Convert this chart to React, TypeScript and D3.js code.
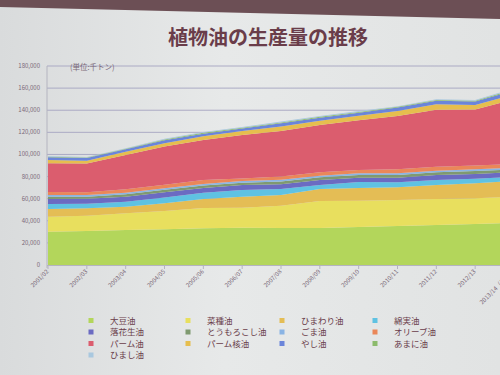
import React from 'react';
import * as d3 from 'd3';

// 作物年度
const years = [
  '2001/02', '2002/03', '2003/04', '2004/05', '2005/06', '2006/07', '2007/08',
  '2008/09', '2009/10', '2010/11', '2011/12', '2012/13', '2013/14（見込）',
];

// 生産量（千トン）— 写真から読み取った概算値
const soybean = [30100, 30800, 31700, 32300, 33200, 33700, 33500, 33500, 34400, 35300, 36200, 37100, 38000];
const rapeseed = [13600, 13800, 15100, 16600, 18400, 18100, 20200, 24400, 23700, 23500, 23500, 23200, 24000];
const sunflower = [7000, 6700, 6000, 7000, 8100, 9900, 9700, 10900, 11600, 11500, 12700, 13600, 14000];
const cottonseed = [4500, 4200, 4500, 5100, 5700, 6100, 5400, 3600, 5400, 4500, 4500, 4200, 3900];
const peanut = [4500, 4500, 4500, 4900, 4300, 4500, 4300, 4500, 3900, 4200, 4500, 4300, 4300];
const corn = [2100, 1800, 2200, 2100, 2100, 2100, 2400, 2400, 2400, 2400, 2400, 2700, 2300];
const sesame = [1500, 1500, 1400, 1500, 1500, 1500, 1500, 1400, 1500, 1500, 1400, 1500, 1400];
const olive = [2700, 2400, 3100, 3000, 3600, 2400, 3000, 3100, 3000, 3600, 3600, 3300, 3500];
const palm = [26000, 26000, 31000, 34600, 36200, 39200, 41300, 42800, 45000, 48200, 51700, 50800, 58400];
const palmKernel = [3000, 2700, 3000, 3100, 3400, 3600, 3900, 3900, 4100, 4500, 5000, 4100, 4500];
const coconut = [2400, 2300, 2200, 2700, 2300, 2400, 3100, 2700, 2800, 3300, 3000, 3000, 3600];
const linseed = [600, 500, 500, 600, 800, 700, 700, 800, 700, 600, 800, 800, 900];
const castor = [600, 400, 400, 600, 700, 700, 700, 700, 700, 600, 700, 700, 900];

const names = [
  '大豆油', '菜種油', 'ひまわり油', '綿実油', '落花生油', 'とうもろこし油', 'ごま油',
  'オリーブ油', 'パーム油', 'パーム核油', 'やし油', 'あまに油', 'ひまし油',
];
const series = [
  soybean, rapeseed, sunflower, cottonseed, peanut, corn, sesame,
  olive, palm, palmKernel, coconut, linseed, castor,
];
const colors = [
  '#b3d65b', '#e8df5e', '#e4bd55', '#5fc2e2', '#6b6bc2', '#7f9a70', '#8ab4e4',
  '#ea8759', '#db5d6e', '#e6be4e', '#6b85da', '#8cbb6c', '#a9c8df',
];

const yTicks = [0, 20000, 40000, 60000, 80000, 100000, 120000, 140000, 160000, 180000];

const W = 500;
const H = 375;
const textColor = '#6a3d4a';
const font = '"Noto Sans CJK JP", "Noto Sans", sans-serif';

export default function App() {
  const x = d3.scalePoint<string>().domain(years).range([48, 514]);
  const y = d3.scaleLinear().domain([0, 180000]).range([265, 66]);

  const rows = years.map((yr, i) => {
    const row: any = { year: yr };
    names.forEach((n, k) => { row[n] = series[k][i]; });
    return row;
  });
  const stacked = d3.stack().keys(names)(rows);

  const area = d3.area<any>()
    .x((d) => x(d.data.year) as number)
    .y0((d) => y(d[0]))
    .y1((d) => y(d[1]));

  const legendCols = [91, 188, 282, 375];
  const legendRows = [320.5, 332, 343.5, 355];

  return (
    <svg width={W} height={H} style={{ position: 'absolute', left: 0, top: 0 }} fontFamily={font}>
      <defs>
        <linearGradient id="bg" x1="0" y1="0" x2="1" y2="0">
          <stop offset="0" stopColor="#d9dbdc" />
          <stop offset="0.45" stopColor="#e7e9e9" />
          <stop offset="1" stopColor="#e1e3e3" />
        </linearGradient>
        <clipPath id="plot">
          <rect x={47} y={0} width={W - 47} height={266} />
        </clipPath>
      </defs>
      <rect width={W} height={H} fill="url(#bg)" />
      <path d={`M0,0H${W}V19L0,7Z`} fill="#6c4f55" />

      <text x={268} y={45} textAnchor="middle" fontSize={20} fontWeight={700} fill={textColor}>
        植物油の生産量の推移
      </text>

      {yTicks.filter((t) => t > 0).map((t) => (
        <line key={t} x1={47} x2={W} y1={y(t)} y2={y(t)} stroke="#abaac4" strokeWidth={1} />
      ))}

      <g clipPath="url(#plot)">
        {stacked.map((s, i) => (
          <path key={s.key} d={area(s as any) || ''} fill={colors[i]} />
        ))}
      </g>

      <line x1={47} x2={47} y1={66} y2={268} stroke="#b4b4c0" />
      <line x1={47} x2={W} y1={265.5} y2={265.5} stroke="#b4b4c0" />

      {yTicks.map((t) => (
        <text key={t} x={40} y={y(t) + 2} textAnchor="end" fontSize={6} fill="#7a6878">
          {d3.format(',')(t)}
        </text>
      ))}

      <text x={70} y={70} fontSize={7.5} fill="#7a6878">(単位:千トン)</text>

      {years.map((yr) => {
        const px = x(yr) as number;
        return (
          <g key={yr}>
            <line x1={px} x2={px} y1={265} y2={269} stroke="#b4b4c0" />
            <text
              transform={`translate(${px + 1},${272}) rotate(-45)`}
              textAnchor="end"
              fontSize={6}
              fill="#7a6878"
            >
              {yr}
            </text>
          </g>
        );
      })}

      {names.map((n, i) => {
        const cx = legendCols[i % 4];
        const cy = legendRows[Math.floor(i / 4)];
        return (
          <g key={n}>
            <rect x={cx - 2.5} y={cy - 2.5} width={5} height={5} fill={colors[i]} />
            <text x={cx + 19} y={cy + 3} fontSize={8.5} fill={textColor}>{n}</text>
          </g>
        );
      })}
    </svg>
  );
}
